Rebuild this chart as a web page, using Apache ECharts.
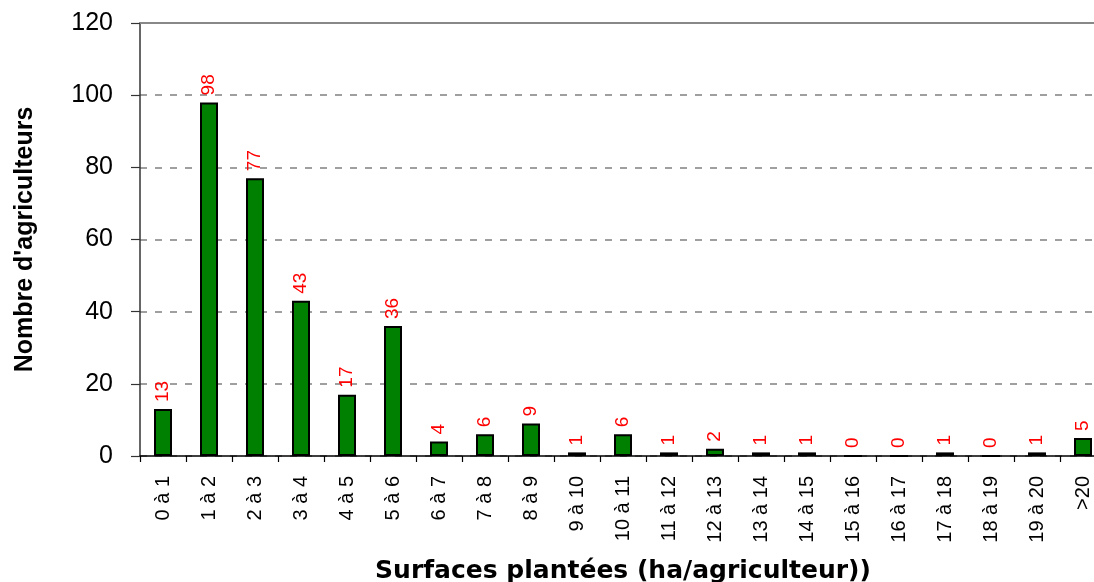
<!DOCTYPE html>
<html>
<head>
<meta charset="utf-8">
<script src="https://cdn.jsdelivr.net/npm/echarts@6/dist/echarts.min.js"></script>
<style>
html,body{margin:0;padding:0;background:#fff;}
#chart{width:1094px;height:582px;}
</style>
</head>
<body>
<div id="chart"></div>
<script>
const categories = ["0 à 1","1 à 2","2 à 3","3 à 4","4 à 5","5 à 6","6 à 7","7 à 8","8 à 9","9 à 10","10 à 11","11 à 12","12 à 13","13 à 14","14 à 15","15 à 16","16 à 17","17 à 18","18 à 19","19 à 20",">20"];
const agriculteurs = [13,98,77,43,17,36,4,6,9,1,6,1,2,1,1,0,0,1,0,1,5];
const yTicks = {min:0, max:120, interval:20};
const xTitle = "Surfaces plantées (ha/agriculteur))";
const yTitle = "Nombre d'agriculteurs";

const chart = echarts.init(document.getElementById('chart'), null, {renderer:'canvas'});
chart.setOption({
  backgroundColor:'#ffffff',
  animation:false,
  grid:{left:140, top:23, right:-12, bottom:126, containLabel:false, outerBoundsMode:'none'},
  xAxis:[{
    type:'category',
    data:categories,
    position:'bottom',
    axisLine:{lineStyle:{color:'#000', width:1.5}},
    axisTick:{show:true, length:6, lineStyle:{color:'#000', width:1.2}},
    axisLabel:{rotate:90, interval:0, margin:20, color:'#000', fontFamily:'Liberation Sans, Arial, sans-serif', fontSize:20},
    name:xTitle,
    nameLocation:'middle',
    nameGap:103,
    nameTextStyle:{fontFamily:'DejaVu Sans, sans-serif', fontWeight:'bold', fontSize:25, color:'#000'}
  },{
    type:'category',
    data:categories,
    position:'top',
    axisLine:{lineStyle:{color:'#888', width:2}},
    axisTick:{show:false},
    axisLabel:{show:false}
  }],
  yAxis:{
    type:'value',
    min:yTicks.min, max:yTicks.max, interval:yTicks.interval,
    axisLine:{show:true, lineStyle:{color:'#333', width:1.5}},
    axisTick:{show:true, length:9, lineStyle:{color:'#333', width:1.2}},
    axisLabel:{margin:27, color:'#000', fontFamily:'Liberation Sans, Arial, sans-serif', fontSize:25},
    splitLine:{show:true, lineStyle:{color:'#808080', type:[7,8], width:1.5}},
    name:yTitle,
    nameLocation:'middle',
    nameGap:102,
    nameTextStyle:{fontFamily:'Liberation Sans, Arial, sans-serif', fontWeight:'bold', fontSize:25, color:'#000'}
  },
  series:[{
    type:'bar',
    xAxisIndex:0,
    data:agriculteurs,
    barWidth:18,
    itemStyle:{color:'#008000', borderColor:'#000', borderWidth:2},
    label:{
      show:true, position:'top', rotate:90, align:'left', verticalAlign:'middle', distance:7,
      color:'#ff0000', fontFamily:'Liberation Sans, Arial, sans-serif', fontSize:19
    }
  }]
});
</script>
</body>
</html>
